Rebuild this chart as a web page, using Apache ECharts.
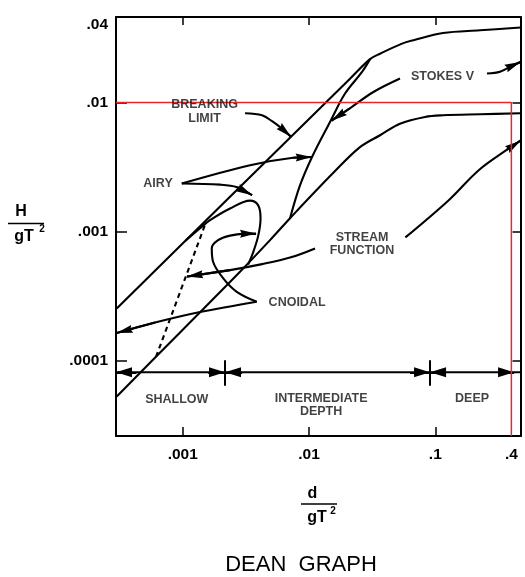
<!DOCTYPE html>
<html>
<head>
<meta charset="utf-8">
<script src="https://cdn.jsdelivr.net/npm/echarts@6/dist/echarts.min.js"></script>
<style>
  html, body { margin: 0; padding: 0; background: #fff; }
  #chart { width: 525px; height: 577px; }
</style>
</head>
<body>
<div id="chart"></div>
<script>
// Frame extents: d/gT^2 (horizontal) and H/gT^2 (vertical), both logarithmic
const xRange = [0.000296, 0.4725];
const yRange = [0.0000261, 0.046];

// Tick marks and tick labels
const xTickValues = [0.001, 0.01, 0.1];
const xLabelValues = [0.001, 0.01, 0.1, 0.4];
const xLabelTexts = ['.001', '.01', '.1', '.4'];
const yTickValues = [0.0001, 0.001, 0.01];
const yLabelValues = [0.0001, 0.001, 0.01, 0.04];
const yLabelTexts = ['.0001', '.001', '.01', '.04'];

// Region boundaries  [d/gT^2, H/gT^2]
const breakingLimit = [
  [0.0003, 0.000254], [0.00733, 0.00553], [0.0211, 0.0153], [0.0304, 0.0217],
  [0.0365, 0.0239], [0.0545, 0.0286], [0.067, 0.0304], [0.115, 0.0346],
  [0.226, 0.0363], [0.4725, 0.0381]
];
const lowerBoundary = [
  [0.0003, 0.0000527], [0.001, 0.000174], [0.00284, 0.000489], [0.00491, 0.000859],
  [0.00707, 0.00127], [0.0155, 0.00284], [0.0253, 0.00451], [0.0365, 0.00558],
  [0.0525, 0.00686], [0.0829, 0.00774], [0.115, 0.00797], [0.226, 0.00812],
  [0.4725, 0.00826]
];
const stokesBoundary = [
  [0.00707, 0.00127], [0.00849, 0.00229], [0.01056, 0.00379], [0.01466, 0.00708],
  [0.01928, 0.01174], [0.02627, 0.01725], [0.0304, 0.0217]
];
const airyCnoidalBoundary = [
  [0.00105, 0.00085], [0.001371, 0.001064], [0.001645, 0.001227], [0.002368, 0.001512],
  [0.003411, 0.001738], [0.003947, 0.001604], [0.00413, 0.001272], [0.003969, 0.000939],
  [0.003622, 0.000698], [0.003289, 0.000555]
];
const dashedBoundary = [[0.000614, 0.000107], [0.001502, 0.001133]];

// Leader curves from the region names (arrowhead at the last point)
const airyLeaderUpper = [[0.000982, 0.00236], [0.003411, 0.003271], [0.00747, 0.00374], [0.0105, 0.00379]];
const airyLeaderLower = [[0.000982, 0.00236], [0.001974, 0.002311], [0.002691, 0.002211], [0.003538, 0.001917]];
const breakingLeader = [[0.003113, 0.008264], [0.004246, 0.007976], [0.005094, 0.007166], [0.006112, 0.006269], [0.0072, 0.00543]];
const stokesLeaderLeft = [[0.0525, 0.01534], [0.0321, 0.01202], [0.02112, 0.009034], [0.01507, 0.007228]];
const stokesLeaderRight = [[0.2566, 0.01677], [0.3253, 0.01731], [0.4048, 0.01927], [0.4725, 0.02062]];
const streamLeaderRight = [[0.0579, 0.000902], [0.1277, 0.001753], [0.2206, 0.002992], [0.3694, 0.004312], [0.4725, 0.005061]];
const streamLeaderLeft = [[0.01116, 0.000741], [0.00707, 0.000629], [0.004246, 0.00056], [0.002368, 0.0005035], [0.001081, 0.0004484]];
const cnoidalLeaderStraight = [[0.003854, 0.0002862], [0.001371, 0.0002381], [0.000603, 0.0001975], [0.0003, 0.0001639]];
const cnoidalLeaderLoop = [
  [0.003854, 0.0002862], [0.002677, 0.000342], [0.002085, 0.0004365], [0.001738, 0.000584],
  [0.001697, 0.000745], [0.001904, 0.000859], [0.002368, 0.000931], [0.003113, 0.000965],
  [0.003805, 0.000968]
];

// Water depth classes
const depthBarLevel = 0.0000813;
const shallowLimit = 0.00216;
const deepLimit = 0.0908;
const depthArrowTails = [0.00043, 0.00159, 0.00295, 0.063, 0.1216, 0.3253];
const depthArrowTips = [0.000296, 0.00216, 0.00216, 0.0908, 0.0908, 0.42];
const dividerSpan = [0.000064, 0.000101];

// Reference lines
const refH = 0.01;
const refD = 0.4;

// Region names
const regionTexts = ['BREAKING\nLIMIT', 'AIRY', 'STOKES V', 'STREAM\nFUNCTION', 'CNOIDAL', 'SHALLOW', 'INTERMEDIATE\nDEPTH', 'DEEP'];
const regionAnchors = [
  [0.001488, 0.00849], [0.000637, 0.00236], [0.114, 0.01578], [0.02627, 0.000802],
  [0.00804, 0.000281], [0.000896, 0.0000503], [0.01245, 0.0000454], [0.1953, 0.0000512]
];

const FONT = "'Liberation Sans', Arial, sans-serif";
const INK = '#000';
const ARROW = 'path://M0,0L4,14L0,12.5L-4,14Z';
const WEDGE = 'path://M0,0L4,14L-4,14Z';

function lookupLabel(values, texts) {
  return function (v) {
    for (let i = 0; i < values.length; i++) {
      if (Math.abs(v / values[i] - 1) < 1e-6) return texts[i];
    }
    return '';
  };
}

function arrowSegment(from, to, size, shape) {
  return [
    { coord: from, symbol: 'none' },
    { coord: to, symbol: shape || ARROW, symbolSize: size || [8, 16], symbolOffset: [0, '50%'] }
  ];
}

function curve(data, extra) {
  return Object.assign({
    type: 'line',
    data: data,
    smooth: 0.35,
    symbol: 'none',
    clip: false,
    silent: true,
    lineStyle: { color: INK, width: 2.1 },
    z: 3
  }, extra || {});
}

function leader(data) {
  const n = data.length;
  return curve(data, {
    markLine: {
      silent: true,
      animation: false,
      symbol: ['none', 'none'],
      label: { show: false },
      lineStyle: { color: INK, width: 2.1, type: 'solid' },
      data: [arrowSegment(data[n - 2], data[n - 1])]
    }
  });
}

const depthMarks = depthArrowTails.map((t, i) =>
  arrowSegment([t, depthBarLevel], [depthArrowTips[i], depthBarLevel], [10, 16], WEDGE));
depthMarks.push([
  { coord: [shallowLimit, dividerSpan[0]], symbol: 'none' },
  { coord: [shallowLimit, dividerSpan[1]], symbol: 'none' }
]);
depthMarks.push([
  { coord: [deepLimit, dividerSpan[0]], symbol: 'none' },
  { coord: [deepLimit, dividerSpan[1]], symbol: 'none' }
]);

const axisLineStyle = { show: true, lineStyle: { color: INK, width: 2 } };
const tickStyle = (len, values) => ({
  show: true, inside: true, length: len, customValues: values,
  lineStyle: { color: INK, width: 1.5 }
});
const tickFont = { color: INK, fontSize: 15.5, fontWeight: 'bold', fontFamily: FONT };
const titleFont = { fontSize: 16, fontWeight: 'bold', fontFamily: FONT, fill: INK, align: 'center', verticalAlign: 'middle' };
const supFont = { fontSize: 10, fontWeight: 'bold', fontFamily: FONT, fill: INK, align: 'center', verticalAlign: 'middle' };

const chart = echarts.init(document.getElementById('chart'), null, { renderer: 'canvas' });

chart.setOption({
  animation: false,
  backgroundColor: '#fff',
  grid: { left: 116, right: 4.5, top: 17, bottom: 141 },
  xAxis: [
    {
      type: 'log', logBase: 10, min: xRange[0], max: xRange[1], position: 'bottom',
      axisLine: axisLineStyle, axisTick: tickStyle(9, xTickValues), splitLine: { show: false },
      axisLabel: Object.assign({
        customValues: xLabelValues, formatter: lookupLabel(xLabelValues, xLabelTexts), margin: 11
      }, tickFont)
    },
    {
      type: 'log', logBase: 10, min: xRange[0], max: xRange[1], position: 'top',
      axisLine: axisLineStyle, axisTick: tickStyle(8, xTickValues),
      axisLabel: { show: false }, splitLine: { show: false }
    }
  ],
  yAxis: [
    {
      type: 'log', logBase: 10, min: yRange[0], max: yRange[1], position: 'left',
      axisLine: axisLineStyle, axisTick: tickStyle(11, yTickValues), splitLine: { show: false },
      axisLabel: Object.assign({
        customValues: yLabelValues, formatter: lookupLabel(yLabelValues, yLabelTexts), margin: 8
      }, tickFont)
    },
    {
      type: 'log', logBase: 10, min: yRange[0], max: yRange[1], position: 'right',
      axisLine: axisLineStyle, axisTick: tickStyle(8, yTickValues),
      axisLabel: { show: false }, splitLine: { show: false }
    }
  ],
  series: [
    curve(breakingLimit),
    curve(lowerBoundary),
    curve(stokesBoundary),
    curve(airyCnoidalBoundary),
    curve(dashedBoundary, { smooth: false, lineStyle: { color: INK, width: 2.1, type: [5, 4] } }),
    leader(airyLeaderUpper),
    leader(airyLeaderLower),
    leader(breakingLeader),
    leader(stokesLeaderLeft),
    leader(stokesLeaderRight),
    leader(streamLeaderRight),
    leader(streamLeaderLeft),
    leader(cnoidalLeaderStraight),
    leader(cnoidalLeaderLoop),
    curve([[xRange[0], depthBarLevel], [xRange[1], depthBarLevel]], {
      smooth: false,
      markLine: {
        silent: true, animation: false, symbol: ['none', 'none'],
        label: { show: false },
        lineStyle: { color: INK, width: 2, type: 'solid' },
        data: depthMarks
      }
    }),
    curve([[xRange[0], refH], [refD, refH], [refD, yRange[0]]], {
      smooth: false, z: 5,
      lineStyle: { color: '#e8262b', width: 1.5 }
    }),
    {
      type: 'scatter',
      silent: true,
      symbolSize: 1,
      itemStyle: { color: 'transparent' },
      z: 6,
      data: regionTexts.map((t, i) => ({ name: t, value: regionAnchors[i] })),
      label: {
        show: true, position: 'inside', formatter: '{b}',
        color: '#111', fontSize: 12.5, fontWeight: 'bold', lineHeight: 13.5, fontFamily: FONT, align: 'center'
      }
    }
  ],
  graphic: [
    { type: 'text', x: 21, y: 212, style: Object.assign({ text: 'H' }, titleFont) },
    { type: 'line', shape: { x1: 8, y1: 223.5, x2: 44, y2: 223.5 }, style: { stroke: INK, lineWidth: 1.6 } },
    { type: 'text', x: 24, y: 237, style: Object.assign({ text: 'gT' }, titleFont) },
    { type: 'text', x: 42, y: 229, style: Object.assign({ text: '2' }, supFont) },
    { type: 'text', x: 312.5, y: 494, style: Object.assign({ text: 'd' }, titleFont) },
    { type: 'line', shape: { x1: 301, y1: 504, x2: 337, y2: 504 }, style: { stroke: INK, lineWidth: 1.6 } },
    { type: 'text', x: 317, y: 518, style: Object.assign({ text: 'gT' }, titleFont) },
    { type: 'text', x: 333, y: 511, style: Object.assign({ text: '2' }, supFont) },
    { type: 'text', x: 301, y: 565, style: { text: 'DEAN  GRAPH', fontSize: 22, fontFamily: FONT, fill: INK, align: 'center', verticalAlign: 'middle' } }
  ]
});
</script>
</body>
</html>
